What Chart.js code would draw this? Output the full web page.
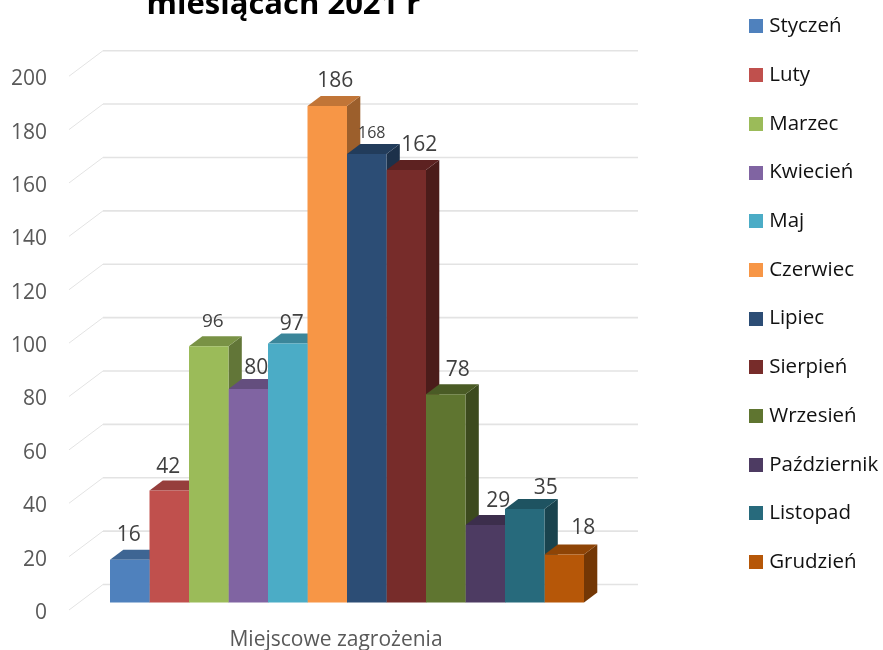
<!DOCTYPE html>
<html lang="pl">
<head>
<meta charset="utf-8">
<style>html,body{margin:0;padding:0;background:#fff}#wrap{width:883px;height:650px;overflow:hidden}</style>
<script src="https://cdn.jsdelivr.net/npm/chart.js@4"></script>
</head>
<body>
<div id="wrap"><canvas id="c" width="883" height="650"></canvas></div>
<script>
const category = ['Miejscowe zagrożenia'];
const months = ['Styczeń','Luty','Marzec','Kwiecień','Maj','Czerwiec','Lipiec','Sierpień','Wrzesień','Październik','Listopad','Grudzień'];
const values = [16,42,96,80,97,186,168,162,78,29,35,18];
const colors = ['#4F81BD','#C0504D','#9BBB59','#8064A2','#4BACC6','#F79646','#2C4D75','#772C2A','#5F7530','#4D3B62','#276A7C','#B65708'];
const labelSizes = [21,21,19,21,21,21,16,21,21,21,21,21];
const labelNudgeX = [-1,-1,4,8,4,8,5,13,12,13,21,19];
const labelNudgeY = [-25,-23,-25,-21,-20,-25,-21,-25,-24,-24,-21,-26];
const FONT = '"Open Sans", sans-serif';
const DEPTH_X = 13.3, DEPTH_Y = 10;   // bar depth
const WALL_X = 34, WALL_Y = 25.5;     // wall offset from front plane
const TEXT_DROP = 3;                  // tick text sits above its anchor

function shade(hex, f){
  const n = parseInt(hex.slice(1),16);
  return 'rgb(' + [(n>>16)&255,(n>>8)&255,n&255].map(c=>Math.round(c*f)).join(',') + ')';
}
function swatch(color){
  const s = document.createElement('canvas'); s.width = 14; s.height = 14;
  const g = s.getContext('2d'); g.fillStyle = color; g.fillRect(0,0,14,14);
  return s;
}
function poly(ctx, pts, fill){
  ctx.beginPath(); pts.forEach((p,i)=> i ? ctx.lineTo(p[0],p[1]) : ctx.moveTo(p[0],p[1]));
  ctx.closePath(); ctx.fillStyle = fill; ctx.fill();
}

const placeBlocks = {
  id:'placeBlocks',
  afterLayout(chart){
    const t = chart.titleBlock; t.left = 0; t.right = 567; t.top = -13.5;
    const l = chart.legend; l.left = 725.25; l.right = 883;
    l.top = -12; l.bottom = 650;
  }
};
const walls = {
  id:'walls',
  beforeDatasetsDraw(chart){
    const {ctx, scales:{y}, chartArea:a} = chart;
    ctx.save(); ctx.strokeStyle = '#E3E3E3';
    y.ticks.forEach(t=>{
      const p = y.getPixelForValue(t.value) - TEXT_DROP;
      ctx.lineWidth = 1; ctx.beginPath(); ctx.moveTo(a.left,p); ctx.lineTo(a.left+WALL_X,p-WALL_Y); ctx.stroke();
      ctx.lineWidth = 1.6; ctx.beginPath(); ctx.moveTo(a.left+WALL_X,p-WALL_Y); ctx.lineTo(638,p-WALL_Y); ctx.stroke();
    });
    ctx.restore();
  }
};
const bars3d = {
  id:'bars3d',
  beforeDatasetsDraw(chart){
    const ctx = chart.ctx;
    chart.data.datasets.forEach((ds,i)=>{
      const b = chart.getDatasetMeta(i).data[0];
      const l = b.x-b.width/2, r = b.x+b.width/2, t = b.y, base = b.base;
      poly(ctx,[[r,t],[r+DEPTH_X,t-DEPTH_Y],[r+DEPTH_X,base-DEPTH_Y],[r,base]],shade(colors[i],.63));
      poly(ctx,[[l,t],[l+DEPTH_X,t-DEPTH_Y],[r+DEPTH_X,t-DEPTH_Y],[r,t]],shade(colors[i],.78));
    });
  },
  afterDatasetsDraw(chart){
    const ctx = chart.ctx;
    ctx.save(); ctx.fillStyle = '#404040'; ctx.textAlign = 'center'; ctx.textBaseline = 'middle';
    chart.data.datasets.forEach((ds,i)=>{
      const b = chart.getDatasetMeta(i).data[0];
      ctx.font = labelSizes[i] + 'px ' + FONT;
      ctx.fillText(String(ds.data[0]), b.x+labelNudgeX[i], b.y+labelNudgeY[i]);
    });
    ctx.restore();
  }
};

new Chart(document.getElementById('c'),{
  type:'bar',
  data:{
    labels:category,
    datasets:months.map((m,i)=>({label:m,data:[values[i]],backgroundColor:colors[i],borderWidth:0,yAxisID:'yBar',categoryPercentage:0.8525,barPercentage:1}))
  },
  plugins:[placeBlocks,walls,bars3d],
  options:{
    responsive:false,animation:false,
    layout:{padding:{top:0,left:0,bottom:0,right:158}},
    plugins:{
      tooltip:{enabled:false},
      title:{display:true,text:'miesiącach 2021 r',color:'#000',font:{family:FONT,size:31,weight:'bold'},padding:{top:0,bottom:39}},
      legend:{
        position:'right',align:'start',maxWidth:100,
        labels:{
          color:'#111',font:{family:FONT,size:20.5},padding:28.2,boxWidth:5.5,usePointStyle:true,
          generateLabels(chart){
            return chart.data.datasets.map((d,i)=>({text:d.label,pointStyle:swatch(colors[i]),fillStyle:colors[i],strokeStyle:colors[i],lineWidth:0,hidden:false,datasetIndex:i,fontColor:'#111'}));
          }
        }
      }
    },
    scales:{
      x:{
        grid:{display:false,drawTicks:false},border:{display:false},
        afterFit(s){s.height=37;},
        ticks:{color:'#595959',font:{family:FONT,size:21},padding:14.5,labelOffset:-11}
      },
      y:{
        position:'left',min:0,max:201.12,
        grid:{display:false,drawTicks:false},border:{display:false},
        afterFit(s){s.width=69;},
        ticks:{stepSize:20,includeBounds:false,color:'#595959',font:{family:FONT,size:21},padding:22}
      },
      yBar:{display:false,min:-3.93,max:197.19}
    }
  }
});
</script>
</body>
</html>
